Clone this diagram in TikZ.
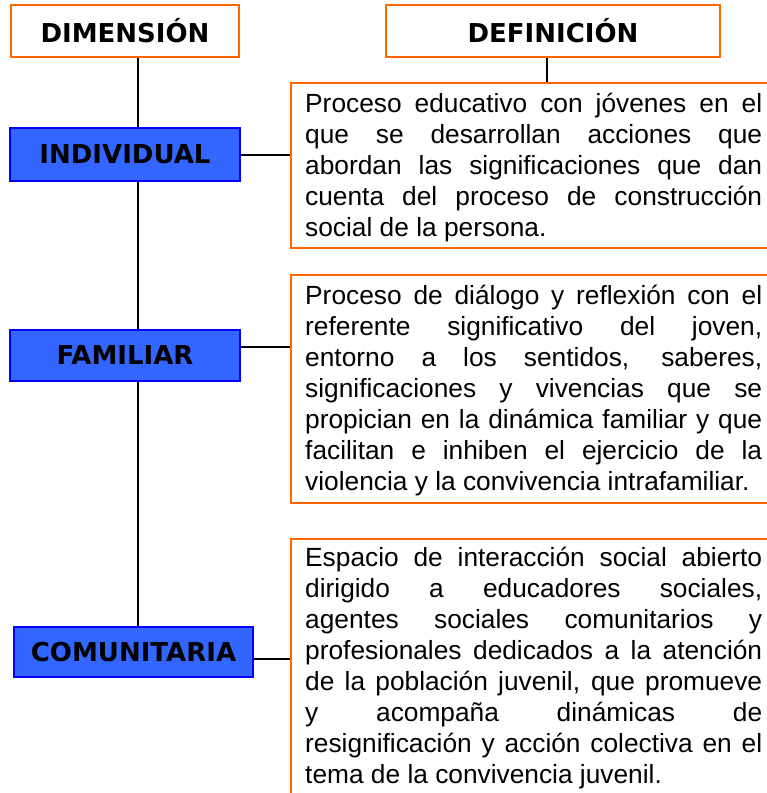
\documentclass[tikz,border=0pt]{standalone}
\usepackage{fontspec}
\setmainfont{Liberation Sans}
\newfontfamily\labfont{DejaVu Sans}
\definecolor{orng}{HTML}{FF6600}
\definecolor{bfill}{HTML}{3366FF}
\definecolor{bline}{HTML}{0000FF}
\newcommand\jl[1]{\makebox[457pt][s]{\strut #1}}
\newcommand\deftxt[1]{\parbox[t]{457pt}{\fontsize{26.3}{31}\selectfont #1\strut}}
\begin{document}
\begin{tikzpicture}[x=1pt,y=-1pt,
  hdr/.style={draw=orng, line width=2pt, fill=white, anchor=north west, inner sep=0pt,
    font=\labfont\bfseries\fontsize{26}{30}\selectfont},
  dimbox/.style={draw=bline, line width=2pt, fill=bfill, anchor=north west, inner sep=0pt,
    font=\labfont\bfseries\fontsize{26}{30}\selectfont},
  defbox/.style={draw=orng, line width=2pt, anchor=north west, inner sep=0pt},
  deftext/.style={anchor=north west, inner sep=0pt},
  conn/.style={line width=2pt, black}]
\useasboundingbox (0,0) rectangle (767,793);
\fill[white] (0,0) rectangle (767,793);

% header boxes
\node[hdr, minimum width=228pt, minimum height=52pt] (dim) at (10,4) {DIMENSIÓN};
\node[hdr, minimum width=334pt, minimum height=52pt] (dfn) at (385,4) {DEFINICIÓN};

% dimension boxes
\node[dimbox, minimum width=230pt, minimum height=53pt] (ind) at (9,127) {INDIVIDUAL};
\node[dimbox, minimum width=230pt, minimum height=51pt] (fam) at (9,329) {FAMILIAR};
\node[dimbox, minimum width=239pt, minimum height=50pt] (com) at (13,626) {COMUNITARIA};

% definition boxes
\node[defbox, minimum width=520pt, minimum height=165pt] (d1) at (290,82) {};
\node[defbox, minimum width=520pt, minimum height=228pt] (d2) at (290,274) {};
\node[defbox, minimum width=520pt, minimum height=292pt] (d3) at (290,538) {};

% definition texts
\node[deftext] (t1) at (305,90.3) {\deftxt{%
\jl{Proceso educativo con jóvenes en el}\newline
\jl{que se desarrollan acciones que}\newline
\jl{abordan las significaciones que dan}\newline
\jl{cuenta del proceso de construcción}\newline
social de la persona.}};

\node[deftext] (t2) at (305,282.3) {\deftxt{%
\jl{Proceso de diálogo y reflexión con el}\newline
\jl{referente significativo del joven,}\newline
\jl{entorno a los sentidos, saberes,}\newline
\jl{significaciones y vivencias que se}\newline
\jl{propician en la dinámica familiar y que}\newline
\jl{facilitan e inhiben el ejercicio de la}\newline
violencia y la convivencia intrafamiliar.}};

\node[deftext] (t3) at (305,544.3) {\deftxt{%
\jl{Espacio de interacción social abierto}\newline
\jl{dirigido a educadores sociales,}\newline
\jl{agentes sociales comunitarios y}\newline
\jl{profesionales dedicados a la atención}\newline
\jl{de la población juvenil, que promueve}\newline
\jl{y acompaña dinámicas de}\newline
\jl{resignificación y acción colectiva en el}\newline
tema de la convivencia juvenil.}};

% connectors
\coordinate (vx) at (138,0);
\coordinate (hx) at (547,0);
\draw[conn] (dim.south -| vx) -- (ind.north -| vx);
\draw[conn] (ind.south -| vx) -- (fam.north -| vx);
\draw[conn] (fam.south -| vx) -- (com.north -| vx);
\draw[conn] (dfn.south -| hx) -- (d1.north -| hx);
\draw[conn] (ind.east) -- (ind.east -| d1.west);
\draw[conn] ([yshift=8.5pt]fam.east) -- ([yshift=8.5pt]fam.east -| d2.west);
\draw[conn] ([yshift=-7pt]com.east) -- ([yshift=-7pt]com.east -| d3.west);
\end{tikzpicture}
\end{document}
